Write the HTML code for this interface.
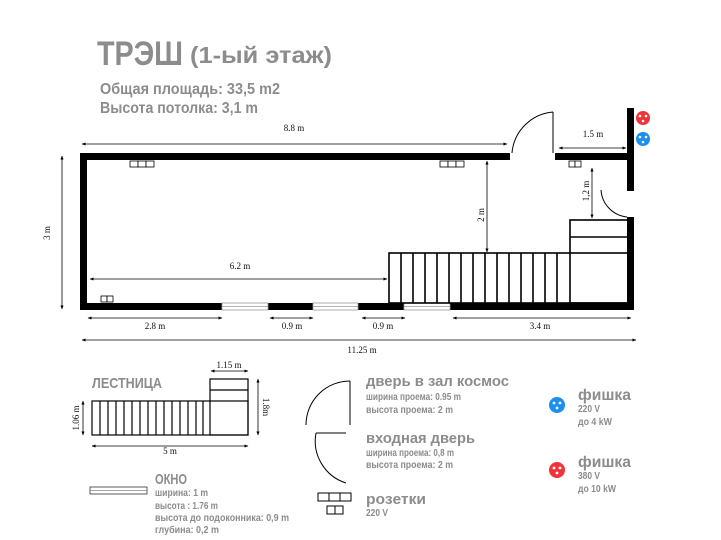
<!DOCTYPE html>
<html><head><meta charset="utf-8"><style>
html,body{margin:0;padding:0;background:#fff;width:721px;height:540px;overflow:hidden}
svg{display:block}
.g{fill:#8c8c8c;font-family:"Liberation Sans",sans-serif;font-weight:bold}
.d{fill:#111;font-family:"Liberation Serif",serif;font-size:9px}
</style></head><body>
<svg width="721" height="540" viewBox="0 0 721 540" xmlns="http://www.w3.org/2000/svg">
<defs>
<marker id="a" viewBox="0 0 10 10" refX="9" refY="5" markerWidth="5" markerHeight="5" orient="auto-start-reverse"><path d="M0 1L10 5L0 9z" fill="#000"/></marker>
</defs>
<!-- titles -->
<text class="g" x="97" y="65" font-size="34" textLength="86" lengthAdjust="spacingAndGlyphs">ТРЭШ</text>
<text class="g" x="190" y="63" font-size="23" textLength="142" lengthAdjust="spacingAndGlyphs">(1-ый этаж)</text>
<text class="g" x="100" y="94" font-size="16" textLength="180" lengthAdjust="spacingAndGlyphs">Общая площадь: 33,5 m2</text>
<text class="g" x="100" y="113" font-size="16" textLength="158" lengthAdjust="spacingAndGlyphs">Высота потолка: 3,1 m</text>

<!-- walls -->
<g fill="#000">
<rect x="80" y="153" width="430" height="7"/>
<rect x="555" y="153" width="79" height="7"/>
<rect x="627" y="108" width="7" height="83"/>
<rect x="627" y="217" width="7" height="93"/>
<rect x="80" y="153" width="7" height="157"/>
<rect x="80" y="303" width="554" height="7"/>
</g>
<!-- windows -->
<g fill="#fff" stroke="#999" stroke-width="0.8">
<rect x="222" y="303" width="46" height="7"/><line x1="222" y1="306.5" x2="268" y2="306.5"/>
<rect x="313" y="303" width="45" height="7"/><line x1="313" y1="306.5" x2="358" y2="306.5"/>
<rect x="404" y="303" width="46" height="7"/><line x1="404" y1="306.5" x2="450" y2="306.5"/>
</g>
<!-- doors -->
<g fill="none" stroke="#000" stroke-width="1">
<path d="M512 153 A45 45 0 0 1 553 112"/>
<line x1="553" y1="112" x2="553" y2="153"/>
<path d="M601 190 A29 29 0 0 0 627 217"/>
</g>
<!-- stairs -->
<g fill="none" stroke="#000" stroke-width="1.6">
<rect x="389" y="253" width="239" height="50"/>
<rect x="570" y="220" width="58" height="83"/>
<line x1="570" y1="237" x2="628" y2="237"/>
<path d="M401 253v50M413 253v50M425 253v50M437 253v50M449 253v50M461 253v50M473 253v50M485 253v50M497 253v50M509 253v50M521 253v50M533 253v50M545 253v50M557 253v50"/>
</g>
<!-- outlets -->
<g fill="#fff" stroke="#000" stroke-width="0.8">
<rect x="130" y="161" width="8" height="6"/><rect x="138" y="161" width="8" height="6"/><rect x="146" y="161" width="8" height="6"/>
<rect x="440" y="161" width="8" height="6"/><rect x="448" y="161" width="8" height="6"/><rect x="456" y="161" width="8" height="6"/>
<rect x="569" y="161" width="6" height="6"/><rect x="575" y="161" width="6" height="6"/>
<rect x="101" y="296" width="6" height="6"/><rect x="107" y="296" width="6" height="6"/>
</g>
<!-- sockets top right -->
<circle cx="643" cy="118" r="7" fill="#f0343a"/><circle cx="640" cy="116" r="1.3" fill="#fff"/><circle cx="646" cy="116" r="1.3" fill="#fff"/><circle cx="643" cy="121" r="1.3" fill="#fff"/>
<circle cx="643" cy="139" r="7" fill="#1b8ff0"/><circle cx="640" cy="137" r="1.3" fill="#fff"/><circle cx="646" cy="137" r="1.3" fill="#fff"/><circle cx="643" cy="142" r="1.3" fill="#fff"/>

<!-- dimensions -->
<g stroke="#000" stroke-width="0.8" marker-start="url(#a)" marker-end="url(#a)">
<line x1="82" y1="144" x2="507" y2="144"/>
<line x1="559" y1="148" x2="626" y2="148"/>
<line x1="62" y1="156" x2="62" y2="309"/>
<line x1="487" y1="161" x2="487" y2="252"/>
<line x1="592" y1="168" x2="592" y2="218"/>
<line x1="90" y1="279" x2="387" y2="279"/>
<line x1="88" y1="318" x2="222" y2="318"/>
<line x1="270" y1="318" x2="313" y2="318"/>
<line x1="362" y1="318" x2="405" y2="318"/>
<line x1="453" y1="318" x2="631" y2="318"/>
<line x1="82" y1="340" x2="636" y2="340"/>
<line x1="211" y1="371" x2="248" y2="371"/>
<line x1="258" y1="379" x2="258" y2="435"/>
<line x1="83" y1="401" x2="83" y2="435"/>
<line x1="92" y1="446" x2="248" y2="446"/>
</g>
<text class="d" x="294" y="131" text-anchor="middle">8.8 m</text>
<text class="d" x="593" y="137" text-anchor="middle">1.5 m</text>
<text class="d" x="240" y="269" text-anchor="middle" font-size="10">6.2  m</text>
<text class="d" x="155" y="329" text-anchor="middle" font-size="8">2.8 m</text>
<text class="d" x="292" y="329" text-anchor="middle" font-size="8">0.9 m</text>
<text class="d" x="383" y="329" text-anchor="middle" font-size="8">0.9 m</text>
<text class="d" x="540" y="329" text-anchor="middle" font-size="8">3.4 m</text>
<text class="d" x="362" y="353" text-anchor="middle" font-size="10">11.25 m</text>
<text class="d" transform="translate(50 233) rotate(-90)" text-anchor="middle">3 m</text>
<text class="d" transform="translate(484 215) rotate(-90)" text-anchor="middle">2 m</text>
<text class="d" transform="translate(589 191) rotate(-90)" text-anchor="middle">1,2 m</text>

<!-- legend stair -->
<text class="g" x="92" y="388" font-size="15" textLength="70" lengthAdjust="spacingAndGlyphs">ЛЕСТНИЦА</text>
<g fill="none" stroke="#000" stroke-width="1.2">
<rect x="92" y="401" width="156" height="34"/>
<rect x="210" y="379" width="38" height="56"/>
<line x1="210" y1="390" x2="248" y2="390"/>
<path d="M100 401v34M108 401v34M116 401v34M124 401v34M132 401v34M140 401v34M148 401v34M156 401v34M164 401v34M172 401v34M180 401v34M188 401v34M196 401v34M203 401v34"/>
</g>
<text class="d" x="229" y="368" text-anchor="middle" font-size="7">1.15 m</text>
<text class="d" transform="translate(263 407) rotate(90)" text-anchor="middle" font-size="7">1.8m</text>
<text class="d" transform="translate(79 418) rotate(-90)" text-anchor="middle" font-size="7">1.06 m</text>
<text class="d" x="170" y="454" text-anchor="middle" font-size="7">5 m</text>

<!-- door legends -->
<g fill="none" stroke="#000" stroke-width="1">
<path d="M306 425 A44 44 0 0 1 350 381"/><line x1="350" y1="381" x2="350" y2="425"/>
<line x1="316" y1="433" x2="346" y2="433"/><path d="M316 433 A44 44 0 0 0 346 483"/>
</g>
<text class="g" x="366" y="386" font-size="15" textLength="143" lengthAdjust="spacingAndGlyphs">дверь в зал космос</text>
<text class="g" x="366" y="400" font-size="10" textLength="95" lengthAdjust="spacingAndGlyphs">ширина проема: 0.95 m</text>
<text class="g" x="366" y="413" font-size="10" textLength="87" lengthAdjust="spacingAndGlyphs">высота проема: 2 m</text>
<text class="g" x="366" y="443" font-size="15" textLength="109" lengthAdjust="spacingAndGlyphs">входная дверь</text>
<text class="g" x="366" y="456" font-size="10" textLength="88" lengthAdjust="spacingAndGlyphs">ширина проема: 0,8 m</text>
<text class="g" x="366" y="468" font-size="10" textLength="87" lengthAdjust="spacingAndGlyphs">высота проема: 2 m</text>

<!-- window legend -->
<rect x="90" y="487" width="57" height="7" fill="#fff" stroke="#333" stroke-width="0.8"/>
<line x1="90" y1="490.5" x2="147" y2="490.5" stroke="#888" stroke-width="0.8"/>
<text class="g" x="155" y="484" font-size="15" textLength="32" lengthAdjust="spacingAndGlyphs">ОКНО</text>
<text class="g" x="155" y="496" font-size="10" textLength="53" lengthAdjust="spacingAndGlyphs">ширина: 1 m</text>
<text class="g" x="155" y="509" font-size="10" textLength="63" lengthAdjust="spacingAndGlyphs">высота : 1.76 m</text>
<text class="g" x="155" y="521" font-size="10" textLength="134" lengthAdjust="spacingAndGlyphs">высота до подоконника: 0,9 m</text>
<text class="g" x="155" y="533" font-size="10" textLength="64" lengthAdjust="spacingAndGlyphs">глубина:  0,2 m</text>

<!-- sockets legend -->
<g fill="#fff" stroke="#000" stroke-width="1">
<rect x="318" y="493" width="11" height="8"/><rect x="329" y="493" width="11" height="8"/><rect x="340" y="493" width="11" height="8"/>
<rect x="327" y="506" width="8" height="8"/><rect x="335" y="506" width="8" height="8"/>
</g>
<text class="g" x="366" y="504" font-size="15" textLength="60" lengthAdjust="spacingAndGlyphs">розетки</text>
<text class="g" x="366" y="516" font-size="10" textLength="22" lengthAdjust="spacingAndGlyphs">220 V</text>

<!-- fishka -->
<circle cx="557" cy="405" r="8" fill="#1b8ff0"/><circle cx="554" cy="403" r="1.4" fill="#fff"/><circle cx="560" cy="403" r="1.4" fill="#fff"/><circle cx="557" cy="408" r="1.4" fill="#fff"/>
<circle cx="557" cy="470" r="8" fill="#f0343a"/><circle cx="554" cy="468" r="1.4" fill="#fff"/><circle cx="560" cy="468" r="1.4" fill="#fff"/><circle cx="557" cy="473" r="1.4" fill="#fff"/>
<text class="g" x="578" y="400" font-size="16" textLength="53" lengthAdjust="spacingAndGlyphs">фишка</text>
<text class="g" x="578" y="412" font-size="10" textLength="22" lengthAdjust="spacingAndGlyphs">220 V</text>
<text class="g" x="578" y="425" font-size="10" textLength="34" lengthAdjust="spacingAndGlyphs">до 4 kW</text>
<text class="g" x="578" y="467" font-size="16" textLength="53" lengthAdjust="spacingAndGlyphs">фишка</text>
<text class="g" x="578" y="479" font-size="10" textLength="22" lengthAdjust="spacingAndGlyphs">380 V</text>
<text class="g" x="578" y="492" font-size="10" textLength="38" lengthAdjust="spacingAndGlyphs">до 10 kW</text>
</svg>
</body></html>
